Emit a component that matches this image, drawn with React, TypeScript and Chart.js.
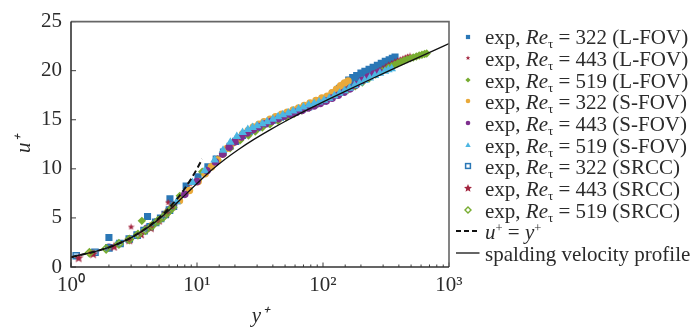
import React, { useEffect, useRef } from 'react';
import { Chart, registerables } from 'chart.js';

Chart.register(...registerables);

const FONT = "'Liberation Serif', 'Times New Roman', serif";
const TEXT = '#2b2b2b';
const C_BLUE = '#2a77b6';
const C_RED = '#a3253f';
const C_GREEN = '#77ac30';
const C_ORANGE = '#e9a93a';
const C_PURPLE = '#7e2f8e';
const C_LBLUE = '#4db6e2';

// ---- axis ----
const xMin = 1;
const xMax = 1000;
const yMin = 0;
const yMax = 25;
const yStep = 5;
const xTickExponents = ['⁰', '¹', '²', '³'];

// ---- exp, Re_tau = 322 (L-FOV) ----
const lfov322Y = [2.0, 4.05, 6.1, 8.2, 10.2, 12.2, 14.2, 16.2, 18.3, 20.3, 23, 26, 30, 35, 40, 46, 53, 60, 68, 77, 87, 98, 110, 122, 135, 148, 160, 172, 185, 200, 215, 232, 250, 270, 290, 312, 335, 355, 373, 165, 190, 220, 250, 285, 320, 360];
const lfov322U = [3.0, 5.15, 6.95, 8.25, 9.2, 10.2, 11.0, 11.7, 12.3, 12.8, 13.4, 13.8, 14.2, 14.6, 14.95, 15.25, 15.55, 15.8, 16.05, 16.3, 16.6, 16.9, 17.3, 17.7, 18.2, 18.6, 19.05, 19.3, 19.5, 19.75, 19.95, 20.15, 20.35, 20.55, 20.75, 20.95, 21.1, 21.25, 21.38, 18.75, 19.15, 19.6, 19.95, 20.3, 20.6, 20.85];

// ---- exp, Re_tau = 443 (L-FOV) ----
const lfov443Y = [3.0, 5.9, 8.8, 11.7, 14.6, 18, 21, 24, 28, 33, 38, 44, 51, 59, 68, 78, 90, 104, 120, 138, 158, 180, 205, 232, 262, 280, 295, 312, 330, 350, 370, 390, 410, 430, 450, 470, 490];
const lfov443U = [4.1, 6.6, 8.5, 9.9, 11.1, 12.3, 13.0, 13.5, 14.0, 14.5, 14.85, 15.2, 15.5, 15.8, 16.1, 16.4, 16.75, 17.1, 17.5, 17.9, 18.3, 18.7, 19.1, 19.5, 19.85, 20.05, 20.2, 20.4, 20.6, 20.75, 20.9, 21.05, 21.15, 21.25, 21.35, 21.45, 21.52];

// ---- exp, Re_tau = 519 (L-FOV) ----
const lfov519Y = [3.65, 7.3, 11.0, 14.6, 18.3, 22, 25.6, 29, 33, 38, 44, 51, 59, 68, 78, 90, 104, 120, 138, 158, 180, 205, 232, 262, 295, 330, 350, 370, 392, 415, 440, 465, 492, 520, 550, 580, 610, 640, 665];
const lfov519U = [4.7, 7.25, 9.7, 10.9, 12.1, 12.9, 13.4, 13.8, 14.2, 14.55, 14.9, 15.25, 15.6, 15.95, 16.25, 16.6, 17.0, 17.35, 17.7, 18.05, 18.4, 18.8, 19.2, 19.6, 19.95, 20.3, 20.45, 20.6, 20.75, 20.9, 21.05, 21.15, 21.25, 21.35, 21.45, 21.55, 21.62, 21.7, 21.75];

// ---- exp, Re_tau = 322 (S-FOV) ----
const sfov322Y = [1.45, 2.9, 4.35, 5.8, 7.25, 8.7, 10.2, 11.6, 13, 14.5, 16, 17.4, 19, 21, 23, 25.5, 28, 31, 34, 38, 42, 47, 52, 58, 64, 71, 79, 88, 98, 108, 118, 128, 138, 148, 158];
const sfov322U = [1.45, 2.85, 4.2, 5.55, 6.75, 7.8, 8.7, 9.5, 10.2, 10.9, 11.5, 12.1, 12.6, 13.1, 13.55, 13.9, 14.25, 14.55, 14.8, 15.05, 15.3, 15.55, 15.75, 16.0, 16.2, 16.45, 16.7, 16.95, 17.2, 17.4, 17.75, 18.1, 18.45, 18.75, 18.95];

// ---- exp, Re_tau = 443 (S-FOV) ----
const sfov443Y = [2, 4, 6, 8, 10, 12, 14, 16, 18, 20, 22.5, 25, 28, 31, 35, 39, 44, 49, 55, 61, 68, 76, 85, 95, 106, 118, 132, 147, 164, 183, 204, 228, 254, 280];
const sfov443U = [2.0, 3.95, 5.8, 7.4, 8.7, 9.8, 10.7, 11.5, 12.2, 12.75, 13.25, 13.65, 14.0, 14.3, 14.6, 14.85, 15.1, 15.35, 15.55, 15.75, 15.95, 16.2, 16.4, 16.65, 16.9, 17.2, 17.5, 17.8, 18.15, 18.55, 19.0, 19.35, 19.65, 19.85];

// ---- exp, Re_tau = 519 (S-FOV) ----
const sfov519Y = [2.3, 4.6, 6.9, 9.2, 11.5, 13.8, 16.1, 18.4, 20.7, 23, 25.3, 27.6, 30, 33, 36, 40, 44, 48, 53, 58, 64, 70, 77, 85, 93, 102, 112, 123, 135, 148, 162, 178, 195, 214, 235, 258, 283, 310, 330, 351];
const sfov519U = [2.3, 4.5, 6.65, 8.6, 9.8, 10.9, 11.9, 12.7, 13.3, 13.7, 14.0, 14.2, 14.4, 14.6, 14.8, 15.05, 15.3, 15.5, 15.7, 15.9, 16.1, 16.3, 16.5, 16.65, 16.8, 17.0, 17.2, 17.45, 17.7, 17.95, 18.2, 18.5, 18.75, 19.0, 19.25, 19.5, 19.75, 19.95, 20.1, 20.2];

// ---- exp (SRCC) ----
const srcc322Y = [1.1, 1.55, 2.0, 2.45, 2.9, 3.35, 3.8, 4.25, 4.7, 5.15, 5.6, 6.05, 6.5];
const srcc322U = [1.15, 1.5, 1.95, 2.4, 2.85, 3.25, 3.7, 4.1, 4.55, 4.95, 5.35, 5.8, 6.2];
const srcc443Y = [1.15, 1.5, 2.2, 2.9, 3.6, 4.3, 5.0, 5.7, 6.4];
const srcc443U = [0.95, 1.35, 2.1, 2.75, 3.35, 4.0, 4.75, 5.5, 6.2];
const srcc519Y = [1.4, 1.9, 2.4, 2.9, 3.4, 3.9, 4.4, 4.9, 5.4, 5.9, 6.4];
const srcc519U = [1.45, 1.85, 2.35, 2.8, 3.3, 3.75, 4.2, 4.7, 5.1, 5.6, 6.05];

// ---- u+ = y+ ----
const linearY = [1, 2, 3, 4, 5, 6, 7, 8, 9, 10, 11];
const linearU = [1, 2, 3, 4, 5, 6, 7, 8, 9, 10, 11];

// ---- spalding velocity profile ----
const spaldingY = [1.0, 2.002, 3.012, 4.043, 5.117, 6.27, 7.561, 9.08, 10.966, 13.427, 16.78, 21.5, 28.3, 38.25, 52.94, 74.75, 107.25, 155.74, 228.14, 336.29, 497.84, 739.11, 1000];
const spaldingU = [1.0, 2, 3, 4, 5, 6, 7, 8, 9, 10, 11, 12, 13, 14, 15, 16, 17, 18, 19, 20, 21, 22, 22.76];

// ---- legend ----
const legendRe = ['322', '443', '519', '322', '443', '519', '322', '443', '519'];
const legendSrc = ['L-FOV', 'L-FOV', 'L-FOV', 'S-FOV', 'S-FOV', 'S-FOV', 'SRCC', 'SRCC', 'SRCC'];
const spaldingLabel = 'spalding velocity profile';

const pts = (xs: number[], ys: number[]) => xs.map((x, i) => ({ x, y: ys[i] }));

function makeStar(size: number, color: string) {
  const c = document.createElement('canvas');
  c.width = size;
  c.height = size;
  const ctx = c.getContext('2d')!;
  const cx = size / 2, cy = size / 2 + size * 0.04, R = size / 2, r = R * 0.45;
  ctx.beginPath();
  for (let i = 0; i < 10; i++) {
    const a = -Math.PI / 2 + (i * Math.PI) / 5;
    const rad = i % 2 === 0 ? R : r;
    ctx.lineTo(cx + rad * Math.cos(a), cy + rad * Math.sin(a));
  }
  ctx.closePath();
  ctx.fillStyle = color;
  ctx.fill();
  return c;
}

function starPoints(cx: number, cy: number, R: number) {
  const r = R * 0.45;
  const p: string[] = [];
  for (let i = 0; i < 10; i++) {
    const a = -Math.PI / 2 + (i * Math.PI) / 5;
    const rad = i % 2 === 0 ? R : r;
    p.push(`${(cx + rad * Math.cos(a)).toFixed(2)},${(cy + rad * Math.sin(a)).toFixed(2)}`);
  }
  return p.join(' ');
}

const frameTicks = {
  id: 'frameTicks',
  afterDatasetsDraw(chart: any) {
    const { ctx, chartArea: a, scales } = chart;
    ctx.save();
    ctx.strokeStyle = '#3c3c3c';
    ctx.lineWidth = 1;
    for (const t of scales.x.ticks) {
      const px = scales.x.getPixelForValue(t.value);
      const l = Math.log10(t.value);
      const major = Math.abs(l - Math.round(l)) < 1e-6;
      const len = major ? 4.5 : 2.5;
      ctx.beginPath();
      ctx.moveTo(px, a.bottom);
      ctx.lineTo(px, a.bottom - len);
      ctx.stroke();
    }
    for (const t of scales.y.ticks) {
      const py = scales.y.getPixelForValue(t.value);
      ctx.beginPath();
      ctx.moveTo(a.left, py);
      ctx.lineTo(a.left + 5, py);
      ctx.stroke();
    }
    ctx.lineWidth = 1.6;
    ctx.strokeStyle = '#666';
    ctx.beginPath();
    ctx.moveTo(a.left, a.top);
    ctx.lineTo(a.right, a.top);
    ctx.lineTo(a.right, a.bottom);
    ctx.stroke();
    ctx.strokeStyle = '#333';
    ctx.beginPath();
    ctx.moveTo(a.left, a.top);
    ctx.lineTo(a.left, a.bottom);
    ctx.lineTo(a.right, a.bottom);
    ctx.stroke();
    ctx.restore();
  },
};

const MX = 467.7;
const rowY = (i: number) => 36.5 + i * 21.65;

function LegendMarker({ i }: { i: number }) {
  const cy = rowY(i);
  const w = 26;
  const h = 12;
  const c = w / 2;
  const m = h / 2;
  let el: any = null;
  switch (i) {
    case 0: el = <rect x={c - 2.1} y={m - 2.1} width={4.2} height={4.2} fill={C_BLUE} />; break;
    case 1: el = <polygon points={starPoints(c, m, 2.4)} fill={C_RED} />; break;
    case 2: el = <polygon points={`${c},${m - 2.6} ${c + 2.6},${m} ${c},${m + 2.6} ${c - 2.6},${m}`} fill={C_GREEN} />; break;
    case 3: el = <circle cx={c} cy={m} r={2.3} fill={C_ORANGE} />; break;
    case 4: el = <circle cx={c} cy={m} r={2.3} fill={C_PURPLE} />; break;
    case 5: el = <polygon points={`${c},${m - 2.8} ${c + 2.7},${m + 1.9} ${c - 2.7},${m + 1.9}`} fill={C_LBLUE} />; break;
    case 6: el = <rect x={c - 2.4} y={m - 2.4} width={4.8} height={4.8} fill="none" stroke={C_BLUE} strokeWidth={1.5} />; break;
    case 7: el = <polygon points={starPoints(c, m + 0.3, 4.2)} fill={C_RED} />; break;
    case 8: el = <polygon points={`${c},${m - 3} ${c + 3},${m} ${c},${m + 3} ${c - 3},${m}`} fill="none" stroke={C_GREEN} strokeWidth={1.4} />; break;
    case 9: el = <line x1={1} y1={m} x2={24.5} y2={m} stroke="#111" strokeWidth={2} strokeDasharray="5 3" />; break;
    case 10: el = <line x1={1} y1={m} x2={24.5} y2={m} stroke="#111" strokeWidth={1.3} />; break;
  }
  return (
    <svg width={w} height={h} style={{ position: 'absolute', left: MX - c, top: cy - m }}>
      {el}
    </svg>
  );
}

const supStyle: any = { fontSize: '0.6em', verticalAlign: '0.55em', lineHeight: 0 };
const subStyle: any = { fontSize: '0.62em', verticalAlign: '-0.3em', lineHeight: 0 };

function LegendRow({ i }: { i: number }) {
  const baseline = rowY(i) + 8.5;
  let content: any;
  if (i < 9) {
    content = (
      <>
        exp, <i>Re</i>
        <span style={subStyle}>τ</span> = {legendRe[i]} ({legendSrc[i]})
      </>
    );
  } else if (i === 9) {
    content = (
      <>
        <i>u</i>
        <span style={supStyle}>+</span> = <i>y</i>
        <span style={supStyle}>+</span>
      </>
    );
  } else {
    content = <>{spaldingLabel}</>;
  }
  return (
    <div
      style={{
        position: 'absolute',
        left: 485,
        top: baseline - 17.6,
        fontFamily: FONT,
        fontSize: 21,
        lineHeight: '21px',
        color: TEXT,
        whiteSpace: 'nowrap',
      }}
    >
      {content}
    </div>
  );
}

export default function App() {
  const ref = useRef<HTMLCanvasElement | null>(null);

  useEffect(() => {
    if (!ref.current) return;
    const starSmall = makeStar(7, C_RED);
    const starBig = makeStar(10, C_RED);

    const scatter = (data: any, style: any, order: number) => ({
      data,
      showLine: false,
      order,
      ...style,
    });

    const chart = new Chart(ref.current, {
      type: 'scatter',
      data: {
        datasets: [
          {
            label: spaldingLabel,
            data: pts(spaldingY, spaldingU),
            showLine: true,
            borderColor: '#111',
            borderWidth: 1.3,
            pointRadius: 0,
            cubicInterpolationMode: 'monotone',
            fill: false,
            order: 0,
          },
          {
            label: 'u+ = y+',
            data: pts(linearY, linearU),
            showLine: true,
            borderColor: '#111',
            borderWidth: 2,
            borderDash: [6, 3.5],
            pointRadius: 0,
            cubicInterpolationMode: 'monotone',
            fill: false,
            order: 1,
          },
          scatter(pts(srcc519Y, srcc519U), { label: 'SRCC 519', pointStyle: 'rectRot', pointRadius: 4, backgroundColor: 'rgba(119,172,48,0.35)', borderColor: C_GREEN, borderWidth: 1.5 }, 2),
          scatter(pts(srcc443Y, srcc443U), { label: 'SRCC 443', pointStyle: starBig, pointRadius: 3 }, 3),
          scatter(pts(srcc322Y, srcc322U), { label: 'SRCC 322', pointStyle: 'rect', pointRadius: 4.4, backgroundColor: 'rgba(77,160,220,0.55)', borderColor: C_BLUE, borderWidth: 1.4 }, 4),
          scatter(pts(sfov519Y, sfov519U), { label: 'S-FOV 519', pointStyle: 'triangle', pointRadius: 5, backgroundColor: C_LBLUE, borderColor: C_LBLUE, borderWidth: 0 }, 5),
          scatter(pts(sfov443Y, sfov443U), { label: 'S-FOV 443', pointStyle: 'circle', pointRadius: 3.8, backgroundColor: C_PURPLE, borderColor: C_PURPLE, borderWidth: 0 }, 6),
          scatter(pts(sfov322Y, sfov322U), { label: 'S-FOV 322', pointStyle: 'circle', pointRadius: 3.8, backgroundColor: C_ORANGE, borderColor: C_ORANGE, borderWidth: 0 }, 7),
          scatter(pts(lfov519Y, lfov519U), { label: 'L-FOV 519', pointStyle: 'rectRot', pointRadius: 4.2, backgroundColor: C_GREEN, borderColor: C_GREEN, borderWidth: 0 }, 8),
          scatter(pts(lfov443Y, lfov443U), { label: 'L-FOV 443', pointStyle: starSmall, pointRadius: 3 }, 9),
          scatter(pts(lfov322Y, lfov322U), { label: 'L-FOV 322', pointStyle: 'rect', pointRadius: 5, backgroundColor: C_BLUE, borderColor: C_BLUE, borderWidth: 0 }, 10),
        ] as any,
      },
      options: {
        responsive: false,
        animation: false,
        events: [],
        layout: { padding: { left: 0, right: 246, top: 16, bottom: 0 } },
        plugins: { legend: { display: false }, tooltip: { enabled: false } },
        scales: {
          x: {
            type: 'logarithmic',
            min: xMin,
            max: xMax,
            grid: { display: false, drawTicks: false },
            border: { display: false },
            ticks: {
              autoSkip: false,
              maxRotation: 0,
              padding: 6,
              color: TEXT,
              font: { family: FONT, size: 21 },
              callback: (v: any) => {
                const l = Math.log10(Number(v));
                const r = Math.round(l);
                return Math.abs(l - r) < 1e-6 ? '10' + xTickExponents[r] : '';
              },
            },
            title: {
              display: true,
              text: 'y⁺',
              color: TEXT,
              font: { family: FONT, size: 21, style: 'italic' },
              padding: { top: 0, bottom: 2 },
            },
            afterFit: (s: any) => {
              s.height = 64;
            },
          },
          y: {
            type: 'linear',
            min: yMin,
            max: yMax,
            grid: { display: false, drawTicks: false },
            border: { display: false },
            ticks: {
              stepSize: yStep,
              padding: 9,
              color: TEXT,
              font: { family: FONT, size: 21 },
            },
            title: {
              display: true,
              text: 'u⁺',
              color: TEXT,
              font: { family: FONT, size: 21, style: 'italic' },
              padding: { top: 12, bottom: 0 },
            },
            afterFit: (s: any) => {
              s.width = 71;
            },
          },
        },
      } as any,
      plugins: [frameTicks],
    });
    return () => chart.destroy();
  }, []);

  return (
    <div style={{ position: 'absolute', left: 0, top: 0, width: 695, height: 331, background: '#fff', overflow: 'hidden' }}>
      <canvas ref={ref} width={695} height={331} style={{ position: 'absolute', left: 0, top: 0 }} />
      {Array.from({ length: 11 }, (_, i) => (
        <LegendMarker key={'m' + i} i={i} />
      ))}
      {Array.from({ length: 11 }, (_, i) => (
        <LegendRow key={'r' + i} i={i} />
      ))}
    </div>
  );
}
